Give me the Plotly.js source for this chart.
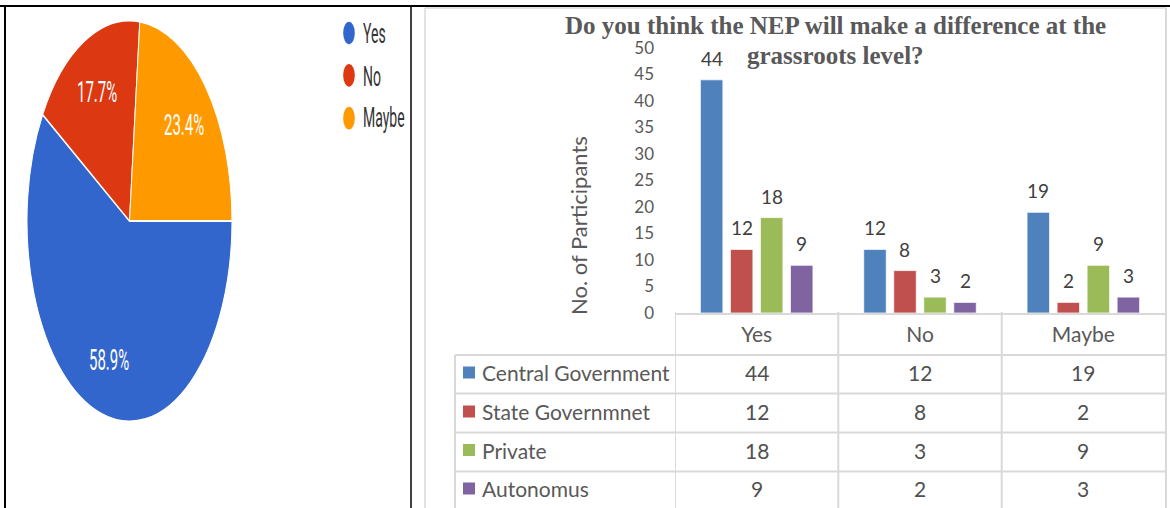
<!DOCTYPE html>
<html>
<head>
<meta charset="utf-8">
<script src="https://cdn.plot.ly/plotly-3.0.1.min.js"></script>
<style>
html,body{margin:0;padding:0;background:#fff;}
#wrap{position:relative;width:1170px;height:508px;overflow:hidden;background:#fff;}
#pie{position:absolute;left:0;top:0;width:411px;height:260px;transform:scaleY(1.956);transform-origin:0 0;}
#bar{position:absolute;left:0;top:0;width:1170px;height:508px;}
</style>
</head>
<body>
<div id="wrap">
  <div id="pie"></div>
  <div id="bar"></div>
</div>
<script>
// ---------- data ----------
const pieLabels = ['Yes', 'No', 'Maybe'];
const pieValues = [58.9, 17.7, 23.4];
const pieColors = ['#3366cc', '#dc3912', '#ff9900'];

const categories = ['Yes', 'No', 'Maybe'];
const seriesNames = ['Central Government', 'State Governmnet', 'Private', 'Autonomus'];
const centralGov = [44, 12, 19];
const stateGov = [12, 8, 2];
const privateSec = [18, 3, 9];
const autonomous = [9, 2, 3];
const seriesColors = ['#4f81bd', '#c0504d', '#9bbb59', '#8064a2'];
const yTicks = [0, 5, 10, 15, 20, 25, 30, 35, 40, 45, 50];
const titleLines = ['Do you think the NEP will make a difference at the', 'grassroots level?'];
const yTitle = 'No. of Participants';

const seriesValues = [centralGov, stateGov, privateSec, autonomous];

// ---------- pie (left panel) ----------
const PW = 411, PH = 260;
const pxp = x => x / PW;
const pyp = y => (PH - y) / PH;
const pieCx = 129.5, pieCy = 113, pieR = 102.5, pieRotation = 90;

const pieShapes = [];
const pieAnn = [];
const legendY = [16.9, 38.5, 60.4];
pieLabels.forEach((lab, i) => {
  const cx = 349, cy = legendY[i], r = 5.8;
  pieShapes.push({type: 'circle', xref: 'paper', yref: 'paper',
    x0: pxp(cx - r), x1: pxp(cx + r), y0: pyp(cy + r), y1: pyp(cy - r),
    fillcolor: pieColors[i], line: {width: 0}});
  pieAnn.push({xref: 'paper', yref: 'paper', x: pxp(361), y: pyp(cy),
    xanchor: 'left', yanchor: 'middle', showarrow: false, text: lab,
    font: {family: 'Roboto', size: 14, color: '#333333'}});
});

// percentage labels placed along each slice's mid angle
const pieTotal = pieValues.reduce((a, b) => a + b, 0);
let cum = 0;
pieValues.forEach((v, i) => {
  const mid = (pieRotation + (cum + v / 2) / pieTotal * 360) * Math.PI / 180;
  cum += v;
  const rr = 0.72 * pieR;
  const x = pieCx + rr * Math.sin(mid);
  const y = pieCy - rr * Math.cos(mid);
  pieAnn.push({xref: 'paper', yref: 'paper', x: pxp(x), y: pyp(y), xanchor: 'center', yanchor: 'middle',
    showarrow: false, text: (v / pieTotal * 100).toFixed(1) + '%',
    font: {family: 'Roboto', size: 15, color: '#ffffff'}});
});

Plotly.newPlot('pie', [{
  type: 'pie',
  labels: pieLabels,
  values: pieValues,
  sort: false,
  direction: 'clockwise',
  rotation: pieRotation,
  marker: {colors: pieColors, line: {color: '#ffffff', width: 1}},
  textposition: 'none',
  domain: {x: [(pieCx - pieR) / PW, (pieCx + pieR) / PW], y: [pyp(pieCy + pieR), pyp(pieCy - pieR)]},
  hoverinfo: 'none'
}], {
  width: PW, height: PH,
  margin: {l: 0, r: 0, t: 0, b: 0},
  paper_bgcolor: '#ffffff',
  showlegend: false,
  shapes: pieShapes,
  annotations: pieAnn
}, {staticPlot: true, displayModeBar: false});

// ---------- bar chart with data table (right panel) ----------
const L = 675, R = 1165, T = 48, B = 313;
const xp = x => (x - L) / (R - L);
const yp = y => (B - y) / (B - T);
const bargap = 0.265, bargroupgap = 0.25;
const nSeries = seriesValues.length;
const slot = (1 - bargap) / nSeries;
const offsetOf = i => -(1 - bargap) / 2 + (i + 0.5) * slot;

const traces = seriesValues.map((vals, i) => ({
  type: 'bar',
  name: seriesNames[i],
  x: categories,
  y: vals,
  marker: {color: seriesColors[i], line: {color: 'rgba(255,255,255,0.75)', width: 1}},
  hoverinfo: 'none'
}));

const gridColor = '#d9d9d9';
const shapes = [];
const ann = [];
const line = (x0, y0, x1, y1, color, w) => shapes.push({type: 'line', xref: 'paper', yref: 'paper',
  x0: xp(x0), y0: yp(y0), x1: xp(x1), y1: yp(y1), line: {color: color, width: w}});

// chart border
line(425, 8, 1166, 8, gridColor, 1.5);
line(425, 8, 425, 508, gridColor, 1.5);
line(1166, 8, 1166, 508, gridColor, 2);

// table grid
const rowLines = [355, 393.5, 432.5, 471.5];
rowLines.forEach(y => line(455, y, 1166, y, gridColor, 2));
line(455, 355, 455, 508, gridColor, 2);
[-0.5, 0.5, 1.5].forEach(c => shapes.push({type: 'line', xref: 'x', yref: 'paper',
  x0: c, x1: c, y0: yp(312), y1: yp(508), line: {color: gridColor, width: 2}}));

// table rows
const rowCenters = [372.5, 411.5, 450, 488.5];
seriesNames.forEach((name, i) => {
  const cy = rowCenters[i];
  shapes.push({type: 'rect', xref: 'paper', yref: 'paper',
    x0: xp(463), x1: xp(475), y0: yp(cy + 6), y1: yp(cy - 6),
    fillcolor: seriesColors[i], line: {width: 0}});
  ann.push({xref: 'paper', yref: 'paper', x: xp(480), y: yp(cy), xanchor: 'left', yanchor: 'middle',
    showarrow: false, text: name, font: {family: 'Lato', size: 21, color: '#595959'}});
  seriesValues[i].forEach((v, j) => {
    ann.push({xref: 'x', yref: 'paper', x: j, y: yp(cy), xanchor: 'center', yanchor: 'middle',
      showarrow: false, text: String(v), font: {family: 'Lato', size: 21, color: '#505050'}});
    // data label above bar
    ann.push({xref: 'x', yref: 'y', x: j + offsetOf(i), y: v, xanchor: 'center', yanchor: 'bottom',
      yshift: 8, showarrow: false, text: String(v), font: {family: 'Lato', size: 19, color: '#404040'}});
  });
});

// titles
const titleY = [25.5, 55.5];
titleLines.forEach((t, k) => {
  ann.push({xref: 'paper', yref: 'paper', x: xp(835), y: yp(titleY[k]), xanchor: 'center', yanchor: 'middle',
    showarrow: false, text: t, borderpad: 0,
    font: {family: 'Liberation Serif', size: 25, color: '#595959', weight: 'bold'}});
});
ann.push({xref: 'paper', yref: 'paper', x: xp(578), y: yp(226), xanchor: 'center', yanchor: 'middle',
  showarrow: false, text: yTitle, textangle: -90,
  font: {family: 'Lato', size: 22, color: '#595959'}});

// black frame of the surrounding table
const frame = (x0, y0, x1, y1, w) => shapes.push({type: 'line', xref: 'paper', yref: 'paper',
  x0: xp(x0), y0: yp(y0), x1: xp(x1), y1: yp(y1), line: {color: '#000000', width: w}});
frame(0, 6, 1170, 6, 2);
frame(5, 6, 5, 508, 2);
frame(411, 6, 411, 508, 1.5);

Plotly.newPlot('bar', traces, {
  width: 1170, height: 508,
  margin: {l: L, r: 1170 - R, t: T, b: 508 - B, pad: 0},
  paper_bgcolor: 'rgba(0,0,0,0)',
  plot_bgcolor: 'rgba(0,0,0,0)',
  barmode: 'group',
  bargap: bargap,
  bargroupgap: bargroupgap,
  showlegend: false,
  xaxis: {type: 'category', range: [-0.5, 2.5], showline: true, linecolor: gridColor, linewidth: 2,
    ticks: '', showgrid: false, ticklabelstandoff: 2,
    tickfont: {family: 'Lato', size: 21, color: '#595959'}},
  yaxis: {range: [0, 50], tickvals: yTicks, showgrid: false, zeroline: false, showline: false,
    ticks: '', ticklabelstandoff: 20,
    tickfont: {family: 'Lato', size: 17, color: '#595959'}},
  shapes: shapes,
  annotations: ann
}, {staticPlot: true, displayModeBar: false});
</script>
</body>
</html>
